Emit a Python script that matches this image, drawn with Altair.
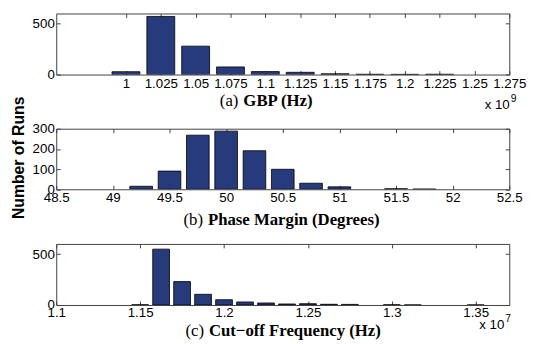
import altair as alt
import pandas as pd

# ---------------- data ----------------
gbp_centers = [1.0, 1.025, 1.05, 1.075, 1.1, 1.125, 1.15, 1.175, 1.2, 1.225]
gbp_counts = [28, 571, 279, 75, 29, 22, 8, 3, 2, 3]
gbp_ticks = [1.0, 1.025, 1.05, 1.075, 1.1, 1.125, 1.15, 1.175, 1.2, 1.225, 1.25, 1.275]

pm_centers = [49.25, 49.5, 49.75, 50.0, 50.25, 50.5, 50.75, 51.0, 51.5, 51.75]
pm_counts = [15, 90, 268, 288, 191, 99, 30, 12, 3, 1]
pm_ticks = [48.5, 49, 49.5, 50, 50.5, 51, 51.5, 52, 52.5]

cf_centers = [1.15, 1.1625, 1.175, 1.1875, 1.2, 1.2125, 1.225, 1.2375, 1.25, 1.2625, 1.275, 1.3, 1.3125, 1.35]
cf_counts = [2, 549, 230, 105, 52, 30, 20, 10, 13, 7, 6, 2, 1, 1]
cf_ticks = [1.1, 1.15, 1.2, 1.25, 1.3, 1.35]

captions_prefix = ["(a)", "(b)", "(c)"]
captions_bold = ["GBP (Hz)", "Phase Margin (Degrees)", "Cut\u2212off Frequency (Hz)"]
exponents = ["9", None, "7"]
y_title = "Number of Runs"

BAR = "#263a7c"
BOX = "#404040"
W = 460


def text_layer(txt, x, y, size, font, weight="normal", align="left", baseline="alphabetic", angle=0):
    df = pd.DataFrame({"t": [txt]})
    kw = dict(font=font, fontSize=size, fontWeight=weight, align=align,
              baseline=baseline, color="black")
    if angle:
        kw["angle"] = angle
    return alt.Chart(df).mark_text(**kw).encode(
        x=alt.value(x), y=alt.value(y), text="t:N"
    )


def panel(centers, counts, bar_w, xdom, xticks, xfmt, ydom, yticks, h,
          lab_pad, idx, split, cap_y, mult_x=None, mult_y=None, extra=None):
    df = pd.DataFrame({"c": centers, "n": counts})
    df["lo"] = df["c"] - bar_w / 2
    df["hi"] = df["c"] + bar_w / 2
    xs = alt.Scale(domain=xdom, nice=False, zero=False)
    ys = alt.Scale(domain=ydom, nice=False)
    bars = alt.Chart(df).mark_bar(color=BAR, stroke="black", strokeWidth=0.8, clip=True).encode(
        x=alt.X("lo:Q", scale=xs, axis=alt.Axis(values=xticks, format=xfmt, orient="bottom",
                                                  offset=-4, tickSize=4, domain=False, grid=False,
                                                  labelPadding=lab_pad, title=None,
                                                  labelOverlap=False, labelFlush=False)),
        x2="hi:Q",
        y=alt.Y("n:Q", scale=ys, axis=alt.Axis(values=yticks, orient="left", offset=-4,
                                                 tickSize=4, domain=False, grid=False,
                                                 labelPadding=2, title=None, labelOverlap=False)),
        y2=alt.datum(0),
    )
    ghost = alt.Chart(df).mark_bar(opacity=0).encode(
        x=alt.X("lo:Q", scale=xs, axis=alt.Axis(values=xticks, orient="top", offset=-4,
                                                  tickSize=4, labels=False, domain=False,
                                                  grid=False, title=None)),
        x2="hi:Q",
        y=alt.Y("n:Q", scale=ys, axis=alt.Axis(values=yticks, orient="right", offset=-4,
                                                 tickSize=4, labels=False, domain=False,
                                                 grid=False, title=None)),
        y2=alt.datum(0),
    )
    layers = [bars, ghost,
              text_layer(captions_prefix[idx], split - 2.5, cap_y, 17, "Liberation Serif", align="right"),
              text_layer(captions_bold[idx], split + 2.5, cap_y, 17, "Liberation Serif", weight="bold")]
    if exponents[idx] is not None:
        layers.append(text_layer("x 10", mult_x, mult_y, 13.5, "Liberation Sans", align="right"))
        layers.append(text_layer(exponents[idx], mult_x + 1, mult_y - 7, 10.5, "Liberation Sans"))
    if extra is not None:
        layers.append(extra)
    return alt.layer(*layers).properties(width=W, height=h)


p1 = panel(gbp_centers, gbp_counts, 0.02, [0.95, 1.275], gbp_ticks, ".3~f",
           [0, 600], [0, 500], 62, 2, 0, 187.5, 94, 460.5, 97)
p2 = panel(pm_centers, pm_counts, 0.2, [48.5, 52.5], pm_ticks, ".1~f",
           [0, 300], [0, 100, 200, 300], 61.5, 1, 1, 151.5, 97.5,
           extra=text_layer(y_title, -37.5, 29.5, 16, "Liberation Sans", weight="bold",
                            align="center", baseline="middle", angle=270))
p3 = panel(cf_centers, cf_counts, 0.01, [1.1, 1.37], cf_ticks, ".2~f",
           [0, 600], [0, 500], 62, 1, 2, 152.5, 93.5, 455, 86)

chart = alt.vconcat(p1, p2, p3, spacing=55, bounds="flush").properties(
    padding={"left": 3, "top": 2, "right": 0, "bottom": 0}
).configure_view(stroke=BOX, strokeWidth=1).configure_axis(
    labelFont="Liberation Sans", labelFontSize=13.5, labelColor="black", tickColor=BOX
)

chart.save("out.html", embed_options={"renderer": "svg", "actions": False})
